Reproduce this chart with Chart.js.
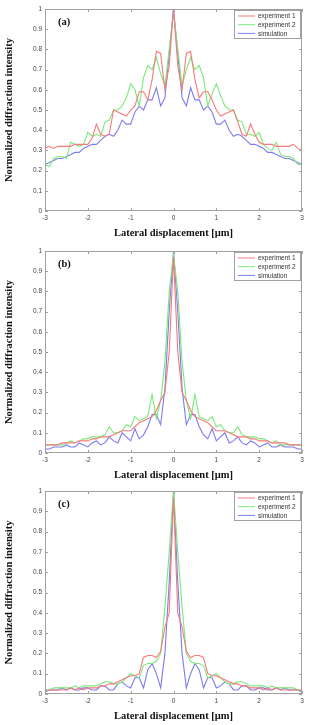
<!DOCTYPE html>
<html>
<head>
<meta charset="utf-8">
<script src="https://cdn.jsdelivr.net/npm/chart.js@4"></script>
<style>
  body { margin: 0; background: #fff; width: 309px; height: 725px; overflow: hidden; position: relative; }
  .panel { position: absolute; left: 0; }
</style>
</head>
<body>
<div class="panel" style="top:0"><canvas id="chartA" width="309" height="242"></canvas></div>
<div class="panel" style="top:242px"><canvas id="chartB" width="309" height="242"></canvas></div>
<div class="panel" style="top:482px"><canvas id="chartC" width="309" height="243"></canvas></div>
<script>
// lateral displacement grid [um]
const xGrid = [-3,-2.9,-2.8,-2.7,-2.6,-2.5,-2.4,-2.3,-2.2,-2.1,-2,-1.9,-1.8,-1.7,-1.6,-1.5,-1.4,-1.3,-1.2,-1.1,
  -1,-0.9,-0.8,-0.7,-0.6,-0.5,-0.4,-0.3,-0.2,-0.1,0,0.1,0.2,0.3,0.4,0.5,0.6,0.7,0.8,0.9,
  1,1.1,1.2,1.3,1.4,1.5,1.6,1.7,1.8,1.9,2,2.1,2.2,2.3,2.4,2.5,2.6,2.7,2.8,2.9,3];

const xTicks = [-3,-2,-1,0,1,2,3];
const yTicks = [0,0.1,0.2,0.3,0.4,0.5,0.6,0.7,0.8,0.9,1];
const seriesNames = ['experiment 1', 'experiment 2', 'simulation'];
const seriesColors = ['#f77a7a', '#7ae97a', '#7b7bf0'];

// (a)
const aExp1 = [0.31,0.32,0.31,0.32,0.32,0.32,0.32,0.33,0.33,0.33,0.33,0.36,0.43,0.38,0.37,0.38,0.50,0.49,0.48,0.47,
  0.50,0.52,0.59,0.59,0.55,0.65,0.79,0.78,0.60,0.72,1.00,0.72,0.60,0.78,0.79,0.65,0.56,0.59,0.59,0.55,
  0.50,0.47,0.48,0.49,0.50,0.44,0.38,0.37,0.43,0.38,0.34,0.33,0.33,0.33,0.32,0.32,0.32,0.32,0.33,0.31,0.30];
const aExp2 = [0.23,0.22,0.26,0.27,0.27,0.26,0.34,0.33,0.32,0.33,0.39,0.37,0.38,0.37,0.44,0.45,0.50,0.50,0.52,0.56,
  0.63,0.60,0.52,0.66,0.72,0.70,0.76,0.68,0.62,0.80,0.98,0.80,0.62,0.70,0.76,0.70,0.72,0.66,0.52,0.58,
  0.63,0.57,0.52,0.50,0.50,0.45,0.44,0.38,0.38,0.37,0.39,0.33,0.31,0.30,0.34,0.28,0.27,0.27,0.26,0.23,0.23];
const aSim = [0.23,0.24,0.25,0.26,0.26,0.27,0.28,0.29,0.29,0.31,0.32,0.33,0.33,0.35,0.37,0.38,0.37,0.40,0.45,0.43,
  0.43,0.49,0.52,0.50,0.55,0.55,0.61,0.52,0.56,0.78,1.00,0.78,0.56,0.52,0.61,0.55,0.55,0.50,0.52,0.49,
  0.43,0.43,0.45,0.40,0.37,0.38,0.37,0.35,0.33,0.33,0.32,0.31,0.29,0.29,0.28,0.27,0.26,0.26,0.25,0.24,0.23];

// (b)
const bExp1 = [0.04,0.04,0.04,0.04,0.05,0.05,0.05,0.05,0.06,0.06,0.06,0.07,0.07,0.08,0.08,0.08,0.09,0.10,0.11,0.11,
  0.11,0.13,0.15,0.16,0.17,0.18,0.21,0.26,0.30,0.50,0.97,0.50,0.30,0.26,0.21,0.18,0.17,0.16,0.15,0.13,
  0.11,0.11,0.11,0.10,0.09,0.08,0.08,0.08,0.07,0.07,0.06,0.06,0.06,0.05,0.05,0.05,0.05,0.04,0.04,0.04,0.04];
const bExp2 = [0.04,0.04,0.04,0.04,0.04,0.05,0.06,0.05,0.06,0.07,0.07,0.08,0.08,0.08,0.09,0.13,0.10,0.10,0.11,0.14,
  0.13,0.18,0.16,0.17,0.18,0.29,0.17,0.26,0.45,0.80,0.98,0.80,0.45,0.26,0.17,0.29,0.18,0.17,0.16,0.18,
  0.13,0.14,0.11,0.10,0.10,0.13,0.09,0.08,0.08,0.08,0.07,0.07,0.06,0.05,0.06,0.04,0.04,0.04,0.04,0.04,0.04];
const bSim = [0.02,0.02,0.03,0.03,0.03,0.04,0.03,0.03,0.05,0.04,0.03,0.05,0.06,0.04,0.05,0.08,0.06,0.05,0.10,0.08,
  0.06,0.12,0.07,0.09,0.13,0.19,0.19,0.14,0.32,0.70,1.00,0.70,0.32,0.14,0.19,0.19,0.13,0.09,0.07,0.12,
  0.06,0.08,0.10,0.05,0.06,0.08,0.05,0.04,0.06,0.05,0.03,0.04,0.05,0.03,0.03,0.04,0.03,0.03,0.03,0.02,0.02];

// (c)
const cExp1 = [0.02,0.02,0.02,0.02,0.02,0.02,0.03,0.02,0.03,0.02,0.03,0.03,0.03,0.04,0.04,0.05,0.05,0.06,0.07,0.08,
  0.09,0.09,0.10,0.18,0.19,0.19,0.18,0.21,0.33,0.40,0.97,0.40,0.33,0.21,0.18,0.19,0.19,0.18,0.10,0.09,
  0.09,0.08,0.07,0.06,0.05,0.05,0.04,0.04,0.03,0.03,0.03,0.02,0.03,0.02,0.03,0.02,0.02,0.02,0.02,0.02,0.02];
const cExp2 = [0.02,0.02,0.03,0.03,0.03,0.03,0.03,0.04,0.03,0.04,0.04,0.04,0.04,0.05,0.06,0.06,0.05,0.05,0.06,0.08,
  0.10,0.09,0.08,0.14,0.15,0.15,0.16,0.20,0.43,0.70,1.00,0.70,0.43,0.20,0.16,0.15,0.15,0.14,0.08,0.09,
  0.10,0.08,0.06,0.05,0.05,0.06,0.06,0.05,0.04,0.04,0.04,0.04,0.03,0.04,0.03,0.03,0.03,0.03,0.03,0.02,0.02];
const cSim = [0.01,0.02,0.02,0.02,0.03,0.02,0.03,0.02,0.02,0.03,0.03,0.02,0.02,0.04,0.04,0.02,0.02,0.05,0.06,0.04,
  0.03,0.08,0.08,0.03,0.12,0.15,0.10,0.03,0.20,0.55,1.00,0.55,0.20,0.03,0.10,0.15,0.12,0.03,0.08,0.08,
  0.03,0.04,0.06,0.05,0.02,0.02,0.04,0.04,0.02,0.02,0.03,0.03,0.02,0.02,0.03,0.02,0.03,0.02,0.02,0.02,0.01];

const tickFont = { family: '"Liberation Sans", Arial, sans-serif', size: 6.5 };
const titleFont = { family: '"Liberation Serif", "Times New Roman", serif', size: 10.5, weight: 'bold' };

// MATLAB style box, inward ticks, panel tag and legend
const matlabFrame = {
  id: 'matlabFrame',
  afterDatasetsDraw(chart, args, opts) {
    const { ctx, chartArea: a, scales: { x, y } } = chart;
    ctx.save();
    ctx.strokeStyle = '#a0a0a0';
    ctx.lineWidth = 1;
    ctx.strokeRect(a.left + 0.5, a.top + 0.5, a.width - 1, a.height - 1);
    ctx.beginPath();
    xTicks.forEach(v => {
      const px = Math.round(x.getPixelForValue(v)) + 0.5;
      ctx.moveTo(px, a.bottom); ctx.lineTo(px, a.bottom - 3);
      ctx.moveTo(px, a.top); ctx.lineTo(px, a.top + 3);
    });
    yTicks.forEach(v => {
      const py = Math.round(y.getPixelForValue(v)) + 0.5;
      ctx.moveTo(a.left, py); ctx.lineTo(a.left + 3, py);
      ctx.moveTo(a.right, py); ctx.lineTo(a.right - 3, py);
    });
    ctx.stroke();

    ctx.fillStyle = '#111';
    ctx.font = 'bold 10.5px "Liberation Serif", serif';
    ctx.textBaseline = 'middle';
    ctx.fillText(opts.tag, a.left + 13, a.top + 13);

    // legend box
    const lx = a.right - 68, ly = a.top + 1, lw = 66, lh = 28;
    ctx.fillStyle = '#fff';
    ctx.fillRect(lx, ly, lw, lh);
    ctx.strokeStyle = '#a0a0a0';
    ctx.strokeRect(lx + 0.5, ly + 0.5, lw, lh);
    ctx.font = '6.5px "Liberation Sans", Arial, sans-serif';
    chart.data.datasets.forEach((ds, i) => {
      const ry = ly + 6 + i * 8.7;
      ctx.strokeStyle = ds.borderColor;
      ctx.beginPath();
      ctx.moveTo(lx + 4, ry); ctx.lineTo(lx + 21, ry);
      ctx.stroke();
      ctx.fillStyle = '#333';
      ctx.fillText(ds.label, lx + 24, ry + 0.5);
    });
    ctx.restore();
  }
};

function makePanel(id, tag, series, axisHeight) {
  const datasets = series.map((vals, i) => ({
    label: seriesNames[i],
    data: vals,
    borderColor: seriesColors[i],
    borderWidth: 1.1,
    pointRadius: 0,
    tension: 0,
    fill: false
  }));
  return new Chart(document.getElementById(id), {
    type: 'line',
    data: { labels: xGrid, datasets: datasets },
    plugins: [matlabFrame],
    options: {
      responsive: false,
      animation: false,
      layout: { padding: { top: 9, right: 7, left: 0, bottom: 0 } },
      plugins: {
        legend: { display: false },
        tooltip: { enabled: false },
        matlabFrame: { tag: tag }
      },
      scales: {
        x: {
          type: 'linear',
          min: -3, max: 3,
          afterFit: s => { s.height = axisHeight; },
          afterBuildTicks: s => { s.ticks = xTicks.map(v => ({ value: v })); },
          grid: { display: false, drawTicks: false },
          border: { display: false },
          ticks: { font: tickFont, color: '#444', padding: 3, maxRotation: 0,
            callback: v => String(v) },
          title: { display: true, text: 'Lateral displacement [µm]', font: titleFont, color: '#111',
            padding: { top: 0, bottom: 2 } }
        },
        y: {
          min: 0, max: 1,
          afterFit: s => { s.width = 45; },
          afterBuildTicks: s => { s.ticks = yTicks.map(v => ({ value: v })); },
          grid: { display: false, drawTicks: false },
          border: { display: false },
          ticks: { font: tickFont, color: '#444', padding: 3,
            callback: v => String(Number(v.toFixed(1))) },
          title: { display: true, text: 'Normalized diffraction intensity', font: titleFont, color: '#111',
            padding: { top: 3, bottom: 0 } }
        }
      }
    }
  });
}

makePanel('chartA', '(a)', [aExp1, aExp2, aSim], 31);
makePanel('chartB', '(b)', [bExp1, bExp2, bSim], 31);
makePanel('chartC', '(c)', [cExp1, cExp2, cSim], 31);
</script>
</body>
</html>
